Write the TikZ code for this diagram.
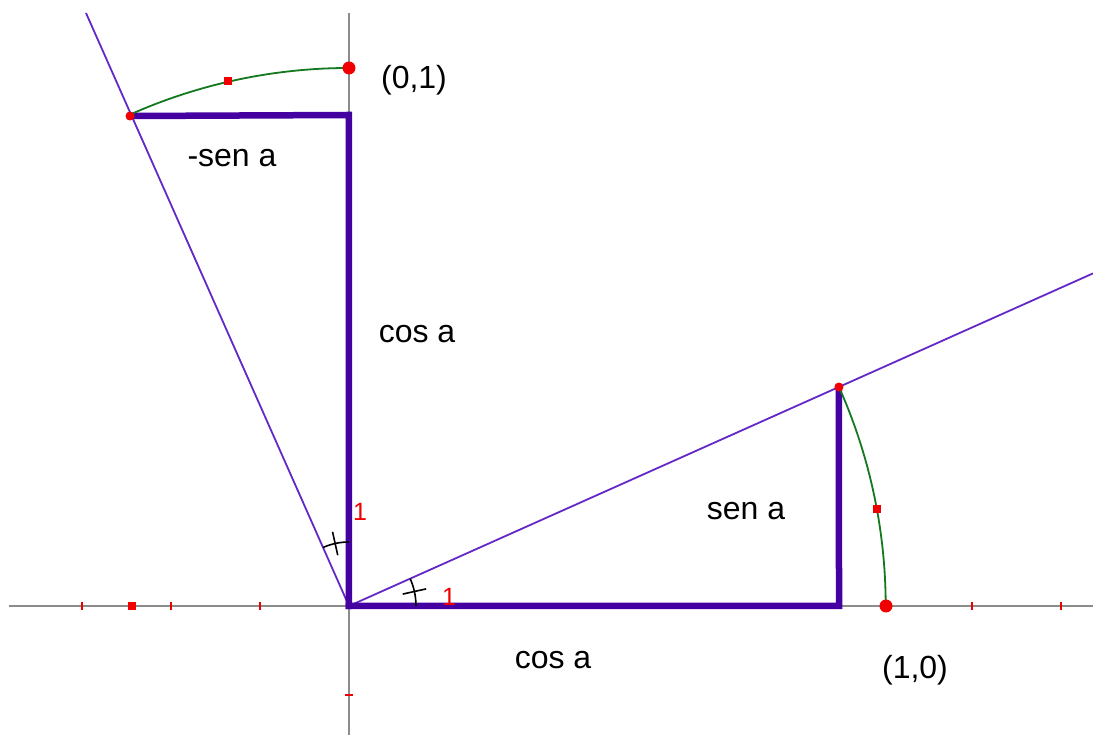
\documentclass[tikz,border=0pt]{standalone}
\usepackage{fontspec}
\setmainfont{Liberation Sans}
\usetikzlibrary{calc}
\definecolor{thickpurple}{RGB}{68,0,160}
\definecolor{thinpurple}{RGB}{100,40,200}
\definecolor{axisgray}{RGB}{140,140,140}
\definecolor{arcgreen}{RGB}{20,120,30}
\definecolor{ptred}{RGB}{240,0,0}
\tikzset{
  axisline/.style={draw=axisgray,line width=2pt},
  thinline/.style={draw=thinpurple,line width=1.8pt},
  thickline/.style={draw=thickpurple,line width=6.5pt,line cap=rect,line join=miter},
  greenarc/.style={draw=arcgreen,line width=1.8pt},
  tickmark/.style={draw=ptred,line width=2pt},
  anglemark/.style={draw=black,line width=1.6pt},
  lbl/.style={font=\fontsize{32}{36}\selectfont,inner sep=0pt},
  redlbl/.style={font=\fontsize{25}{28}\selectfont,text=ptred,inner sep=0pt}
}
\begin{document}
\begin{tikzpicture}[x=1pt,y=1pt]
\useasboundingbox (-349,-129) rectangle (744,606);
\fill[white] (-349,-129) rectangle (744,606);
% key points
\coordinate (O) at (0,0);
\coordinate (P) at (24.08:536.7);
\coordinate (Q) at (114.08:536.7);
\coordinate (A) at (537,0);
\coordinate (B) at (0,538);
\coordinate (Pf) at (490,0);
\coordinate (Qf) at (0,491);
\coordinate (Xl) at (-340,0);
\coordinate (Xr) at (744,0);
\coordinate (Yt) at (0,593);
\coordinate (Yb) at (0,-129);
\coordinate (Lr) at (744,332.6);
\coordinate (Lt) at (-263,593);
\coordinate (Qx) at (-217,0);
\coordinate (Mr) at (10.4:537);
\coordinate (Ml) at (103:539);
% axes
\draw[axisline] (Xl) -- (Xr);
\draw[axisline] (Yb) -- (Yt);
% ticks
\foreach \k in {-3,-2,-1,7,8}{
  \draw[tickmark] (\k*89,-4) -- (\k*89,4);
}
\draw[tickmark] (-4,-89) -- (4,-89);
% thin lines
\draw[thinline] (O) -- (Lr);
\draw[thinline] (O) -- (Lt);
% thick lines
\draw[thickline] (O) -- (Pf) -- (P);
\draw[thickline] (O) -- (Qf) -- (Q);
% green arcs
\draw[greenarc] (P) arc[start angle=24.08,end angle=0,radius=536.7];
\draw[greenarc] (B) arc[start angle=90,end angle=114.08,radius=538];
% angle marks
\draw[anglemark] (67,0) arc[start angle=0,end angle=24.08,radius=67];
\draw[anglemark] (12.5:55) -- (12.5:79);
\draw[anglemark] (0,64) arc[start angle=90,end angle=114.08,radius=64];
\draw[anglemark] (102.5:52) -- (102.5:76);
% points
\fill[ptred] (A) circle[radius=6.5];
\fill[ptred] (B) circle[radius=6.5];
\fill[ptred] (P) circle[radius=4.5];
\fill[ptred] (Q) circle[radius=4.5];
\fill[ptred] ($(Qx)+(-4,-4)$) rectangle ($(Qx)+(4,4)$);
\fill[ptred] ($(Mr)+(-4,-4)$) rectangle ($(Mr)+(4,4)$);
\fill[ptred] ($(Ml)+(-4,-4)$) rectangle ($(Ml)+(4,4)$);
% labels
\node[lbl] (t01) at (65,526) {(0,1)};
\node[lbl] (tmsen) at (-117,448) {-sen a};
\node[lbl] (tcos1) at (68,272) {cos a};
\node[lbl] (tsen) at (397,95) {sen a};
\node[lbl] (tcos2) at (204,-54) {cos a};
\node[lbl] (t10) at (566,-64) {(1,0)};
\node[redlbl] (one1) at (100,9) {1};
\node[redlbl] (one2) at (11,94) {1};
\end{tikzpicture}
\end{document}
